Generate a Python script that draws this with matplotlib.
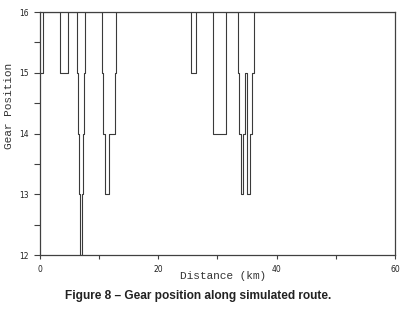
import matplotlib.pyplot as plt
import numpy as np

# gear held from distanza[i] up to distanza[i+1] (km)
distanza = [0, 0.45, 3.38, 4.78, 6.2, 6.42, 6.59, 6.7, 7.15, 7.31, 7.43, 7.6,
            10.4, 10.67, 10.96, 11.7, 12.67, 12.84, 25.5, 26.3,
            29.3, 29.3, 31.4, 31.4, 33.5, 33.6, 33.9, 34.4, 34.65, 35.0,
            35.07, 35.5, 35.78, 36.2, 60]
marcia = [15, 16, 15, 16, 15, 14, 13, 12, 13, 14, 15, 16,
          15, 14, 13, 14, 15, 16, 15, 16,
          15, 14, 15, 16, 15, 14, 13, 14, 15, 14,
          13, 14, 15, 16, 16]

x_ticks = [0, 20, 40, 60]
x_minor = [10, 30, 50]
y_ticks = [12, 13, 14, 15, 16]
y_minor = [12.5, 13.5, 14.5, 15.5]

fig = plt.figure(figsize=(4.18, 3.16), dpi=100)
ax = fig.add_axes([0.0957, 0.193, 0.849, 0.769])

ax.plot(distanza, marcia, drawstyle='steps-post', color='#3a3a3a', lw=0.8)

ax.set_xlim(0, 60)
ax.set_ylim(12, 16)
ax.set_xticks(x_ticks)
ax.set_xticks(x_minor, minor=True)
ax.set_yticks(y_ticks)
ax.set_yticks(y_minor, minor=True)

for s in ax.spines.values():
    s.set_color('#404040')
    s.set_linewidth(0.9)

ax.tick_params(which='both', direction='out', colors='#404040', labelcolor='#222222',
               labelsize=5.5, width=0.8)
ax.tick_params(axis='x', which='both', length=3, pad=4)
ax.tick_params(axis='y', which='both', length=4, pad=4)

ax.set_xlabel('Distance (km)', family='Liberation Mono', fontsize=8, color='#333333')
ax.set_ylabel('Gear Position', family='Liberation Mono', fontsize=8, color='#333333')
ax.xaxis.set_label_coords(0.515, -0.065)
ax.yaxis.set_label_coords(-0.074, 0.613)

fig.text(0.475, 1 - 296 / 316, 'Figure 8 \u2013 Gear position along simulated route.',
         ha='center', va='center', family='Liberation Sans', fontweight='bold',
         fontsize=8.6, color='#222222')

fig.savefig('out.png', dpi=100)
